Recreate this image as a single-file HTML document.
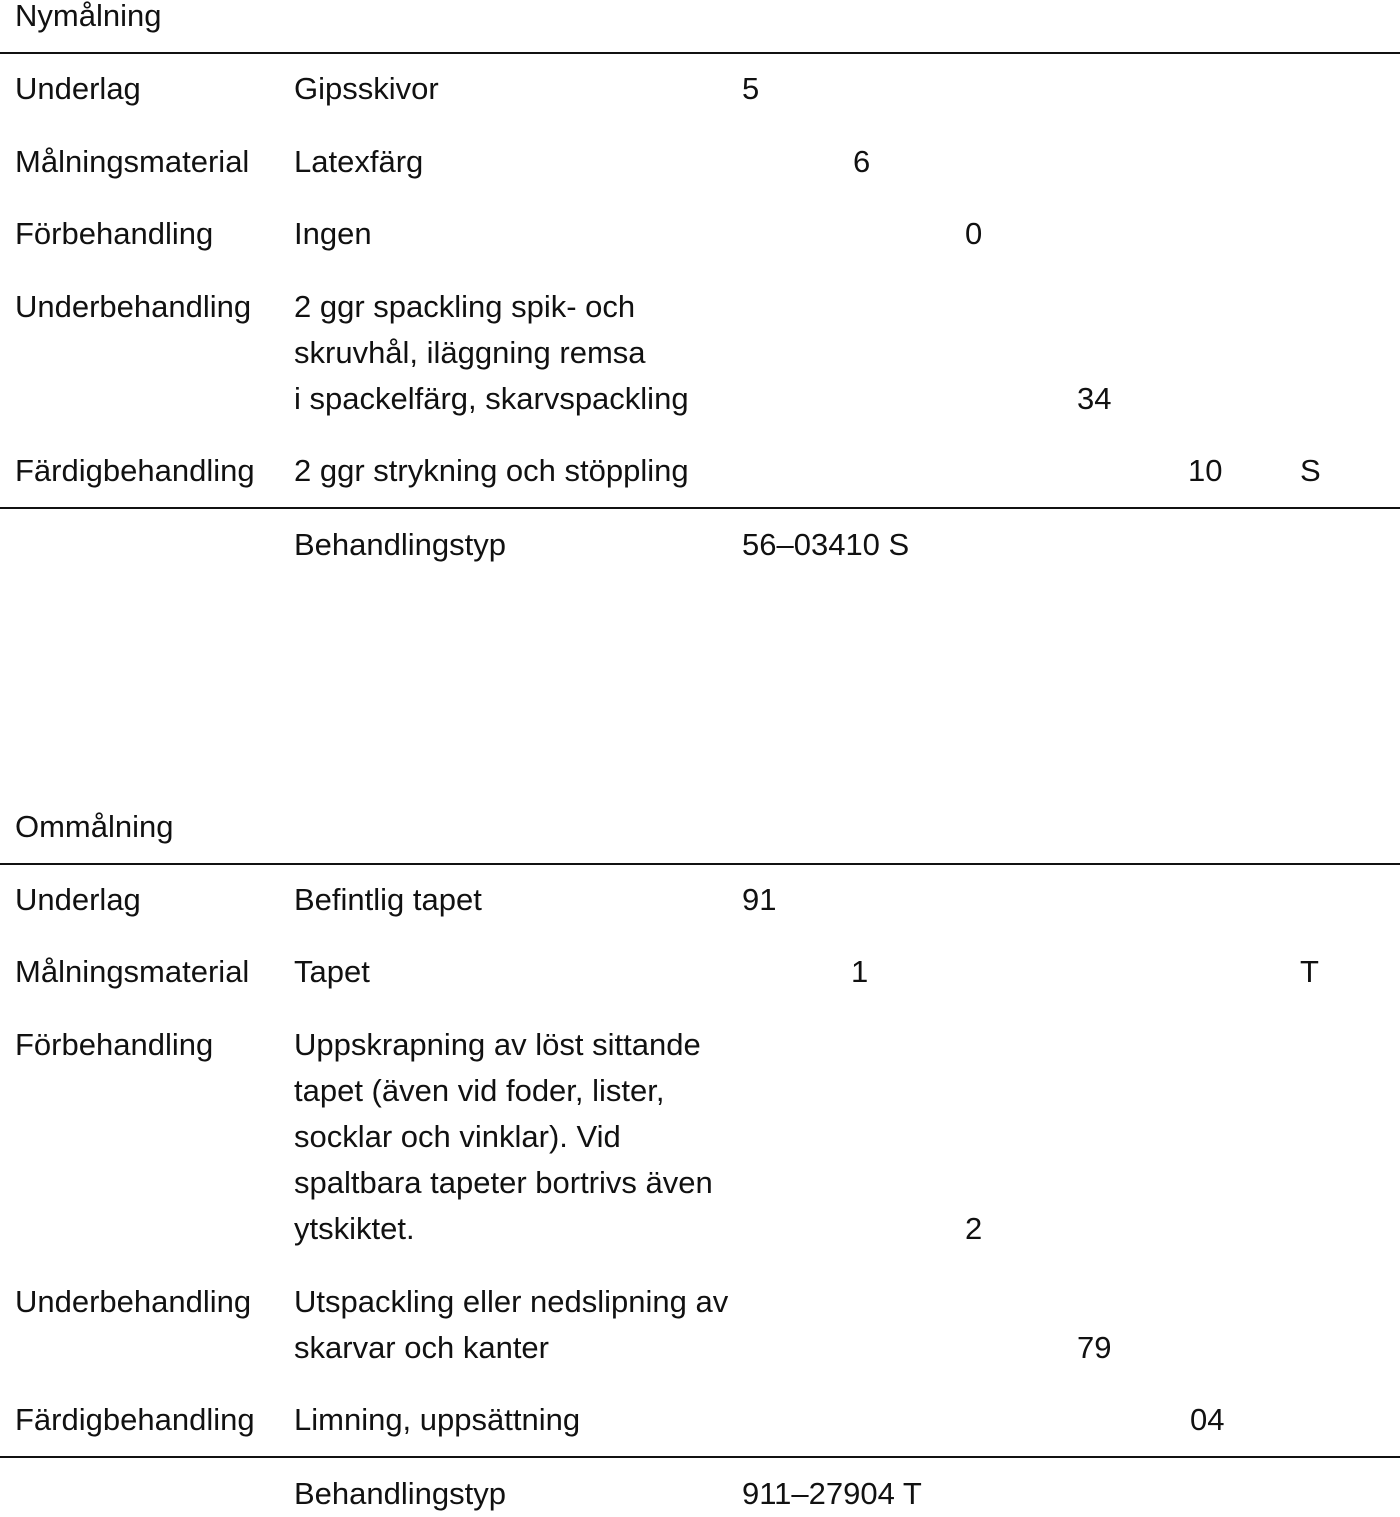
<!DOCTYPE html>
<html><head><meta charset="utf-8"><style>
html,body{margin:0;padding:0;background:#fff;}
body{width:1400px;height:1509px;position:relative;overflow:hidden;font-family:"Liberation Sans",sans-serif;font-size:31px;color:#111;}
.t{position:absolute;line-height:46px;white-space:nowrap;}
.r{position:absolute;left:0;width:1400px;height:2px;background:#111;}
</style></head><body>
<div class="t" style="left:15px;top:-7px">Nymålning</div>
<div class="r" style="top:52px"></div>
<div class="t" style="left:15px;top:66px">Underlag</div>
<div class="t" style="left:294px;top:66px">Gipsskivor</div>
<div class="t" style="left:742px;top:66px">5</div>
<div class="t" style="left:15px;top:139px">Målningsmaterial</div>
<div class="t" style="left:294px;top:139px">Latexfärg</div>
<div class="t" style="left:853px;top:139px">6</div>
<div class="t" style="left:15px;top:211px">Förbehandling</div>
<div class="t" style="left:294px;top:211px">Ingen</div>
<div class="t" style="left:965px;top:211px">0</div>
<div class="t" style="left:15px;top:284px">Underbehandling</div>
<div class="t" style="left:294px;top:284px">2 ggr spackling spik- och<br>skruvhål, iläggning remsa<br>i spackelfärg, skarvspackling</div>
<div class="t" style="left:1077px;top:376px">34</div>
<div class="t" style="left:15px;top:448px">Färdigbehandling</div>
<div class="t" style="left:294px;top:448px">2 ggr strykning och stöppling</div>
<div class="t" style="left:1188px;top:448px">10</div>
<div class="t" style="left:1300px;top:448px">S</div>
<div class="r" style="top:507px"></div>
<div class="t" style="left:294px;top:522px">Behandlingstyp</div>
<div class="t" style="left:742px;top:522px">56–03410 S</div>

<div class="t" style="left:15px;top:804px">Ommålning</div>
<div class="r" style="top:863px"></div>
<div class="t" style="left:15px;top:877px">Underlag</div>
<div class="t" style="left:294px;top:877px">Befintlig tapet</div>
<div class="t" style="left:742px;top:877px">91</div>
<div class="t" style="left:15px;top:949px">Målningsmaterial</div>
<div class="t" style="left:294px;top:949px">Tapet</div>
<div class="t" style="left:851px;top:949px">1</div>
<div class="t" style="left:1300px;top:949px">T</div>
<div class="t" style="left:15px;top:1022px">Förbehandling</div>
<div class="t" style="left:294px;top:1022px">Uppskrapning av löst sittande<br>tapet (även vid foder, lister,<br>socklar och vinklar). Vid<br>spaltbara tapeter bortrivs även<br>ytskiktet.</div>
<div class="t" style="left:965px;top:1206px">2</div>
<div class="t" style="left:15px;top:1279px">Underbehandling</div>
<div class="t" style="left:294px;top:1279px">Utspackling eller nedslipning av<br>skarvar och kanter</div>
<div class="t" style="left:1077px;top:1325px">79</div>
<div class="t" style="left:15px;top:1397px">Färdigbehandling</div>
<div class="t" style="left:294px;top:1397px">Limning, uppsättning</div>
<div class="t" style="left:1190px;top:1397px">04</div>
<div class="r" style="top:1456px"></div>
<div class="t" style="left:294px;top:1471px">Behandlingstyp</div>
<div class="t" style="left:742px;top:1471px">911–27904 T</div>
</body></html>
